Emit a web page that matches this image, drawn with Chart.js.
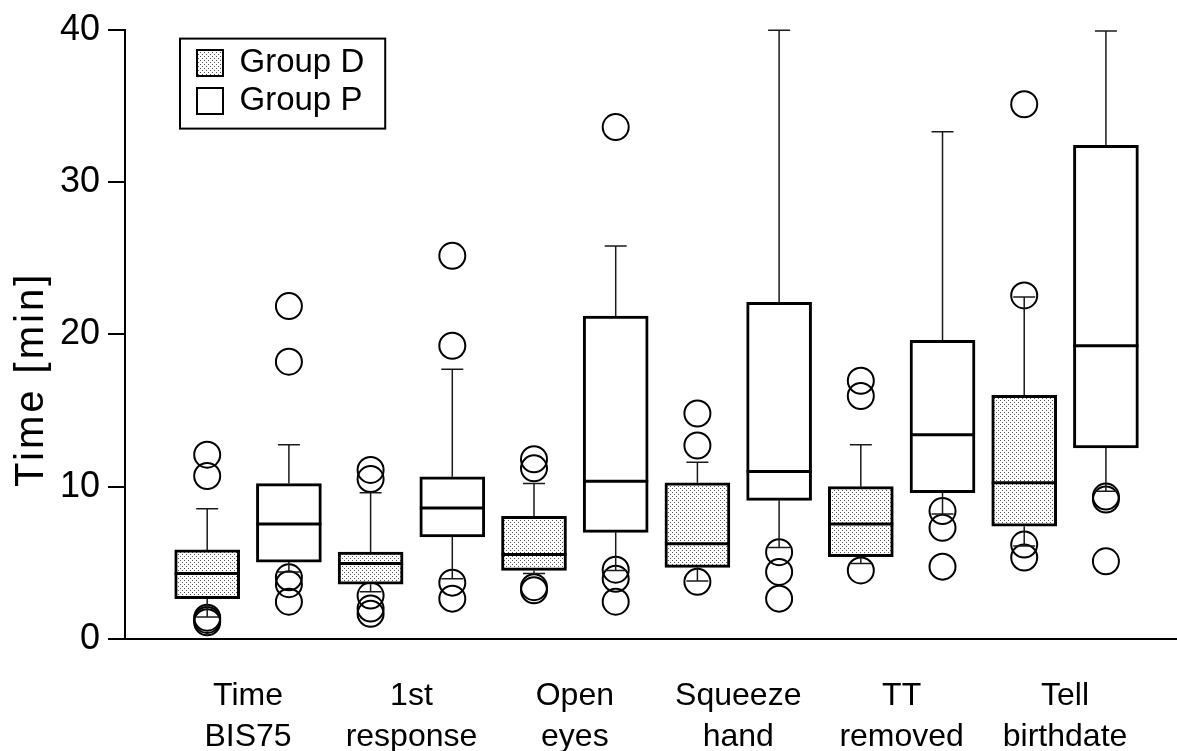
<!DOCTYPE html>
<html lang="en">
<head>
<meta charset="UTF-8">
<title>Time [min]</title>
<script src="https://cdn.jsdelivr.net/npm/chart.js"></script>
<style>
  html, body { margin: 0; padding: 0; background: #fff; }
  canvas { display: block; }
</style>
</head>
<body>
<canvas id="boxChart" width="1177" height="751"></canvas>
<script>
// categories (two-line tick labels)
const categories = [["Time", "BIS75"], ["1st", "response"], ["Open", "eyes"], ["Squeeze", "hand"], ["TT", "removed"], ["Tell", "birthdate"]];
const yTicks = [0, 10, 20, 30, 40];
const groupNames = ["Group D", "Group P"];
const yTitle = "Time [min]";

// Group D: lower whisker, Q1, median, Q3, upper whisker, outliers
const dLow  = [1.45, 3.1, 4.3, 3.8, 4.95, 6.1];
const dQ1   = [2.65, 3.6, 4.5, 4.7, 5.4, 7.4];
const dMed  = [4.3, 4.95, 5.55, 6.25, 7.55, 10.25];
const dQ3   = [5.85, 5.7, 8.05, 10.25, 10.0, 16.0];
const dHigh = [8.55, 9.6, 10.2, 11.6, 12.75, 22.45];
const dOut  = [[12.1, 10.7, 1.1, 1.25, 1.4], [11.1, 10.5, 2.85, 2.0, 1.65], [11.8, 11.2, 3.4, 3.2], [14.8, 12.7, 3.75], [16.95, 15.95, 4.5], [35.1, 22.55, 6.2, 5.35]];

// Group P
const pLow  = [4.4, 3.95, 4.5, 6.0, 8.2, 9.7];
const pQ1   = [5.05, 6.7, 7.0, 9.1, 9.6, 12.55];
const pMed  = [7.55, 8.6, 10.35, 11.0, 13.4, 19.25];
const pQ3   = [10.2, 10.65, 21.2, 22.1, 19.6, 32.4];
const pHigh = [12.75, 17.7, 25.8, 39.95, 33.3, 39.9];
const pOut  = [[21.85, 18.2, 4.05, 3.6, 2.45], [25.15, 19.25, 3.7, 2.65], [33.6, 4.55, 3.95, 2.45], [5.7, 4.4, 2.65], [8.4, 7.3, 4.75], [9.35, 9.15, 5.1]];

const offD = -0.25, offP = 0.25;
const FONT = "'Liberation Sans', Arial, Helvetica, sans-serif";

const canvas = document.getElementById("boxChart");
const ctx = canvas.getContext("2d");

// stipple fill for group D
function dotPattern() {
    const c = document.createElement("canvas");
    c.width = 4; c.height = 4;
    const g = c.getContext("2d");
    g.fillStyle = "#fff";
    g.fillRect(0, 0, 4, 4);
    g.fillStyle = "#555";
    g.fillRect(0, 0, 1, 1);
    g.fillRect(2, 2, 1, 1);
    return ctx.createPattern(c, "repeat");
}

const boxesD = categories.map((c, i) => ({ x: i + offD, y: [dQ1[i], dQ3[i]] }));
const boxesP = categories.map((c, i) => ({ x: i + offP, y: [pQ1[i], pQ3[i]] }));
const pointsD = dOut.flatMap((vals, i) => vals.map(v => ({ x: i + offD, y: v })));
const pointsP = pOut.flatMap((vals, i) => vals.map(v => ({ x: i + offP, y: v })));

// whiskers + medians, anchored on the bar elements
const whiskers = {
    id: "whiskers",
    afterDatasetsDraw(chart) {
        const c = chart.ctx, y = chart.scales.y;
        const sets = [[0, dLow, dMed, dHigh], [1, pLow, pMed, pHigh]];
        c.save();
        sets.forEach(([ds, lo, md, hi]) => {
            chart.getDatasetMeta(ds).data.forEach((bar, i) => {
                const props = bar.getProps(["x", "y", "base", "width"], true);
                const top = Math.min(props.y, props.base), bottom = Math.max(props.y, props.base);
                const yHi = y.getPixelForValue(hi[i]), yLo = y.getPixelForValue(lo[i]);
                c.strokeStyle = "#1a1a1a";
                c.lineWidth = 1.5;
                c.beginPath();
                c.moveTo(props.x, top); c.lineTo(props.x, yHi);
                c.moveTo(props.x - 11, yHi); c.lineTo(props.x + 11, yHi);
                c.moveTo(props.x, bottom); c.lineTo(props.x, yLo);
                c.moveTo(props.x - 11, yLo); c.lineTo(props.x + 11, yLo);
                c.stroke();
                const ym = y.getPixelForValue(md[i]);
                c.strokeStyle = "#000";
                c.lineWidth = 3;
                c.beginPath();
                c.moveTo(props.x - props.width / 2, ym);
                c.lineTo(props.x + props.width / 2, ym);
                c.stroke();
            });
        });
        c.restore();
    }
};

// y title sits a bit below the axis middle in the original
const sideTitle = {
    id: "sideTitle",
    afterDraw(chart) {
        const c = chart.ctx, a = chart.chartArea;
        c.save();
        c.translate(32, (a.top + a.bottom) / 2 + 45);
        c.rotate(-Math.PI / 2);
        c.font = "40px " + FONT;
        c.letterSpacing = "3px";
        c.fillStyle = "#000";
        c.textAlign = "center";
        c.textBaseline = "middle";
        c.fillText(yTitle, 0, 0);
        c.restore();
    }
};

// legend moved inside the plot and framed
const legendFrame = {
    id: "legendFrame",
    afterLayout(chart) {
        const lg = chart.legend, a = chart.chartArea;
        lg.left = a.left + 67;
        lg.top = a.top + 12;
        lg.right = lg.left + lg.width;
    },
    afterDraw(chart) {
        const boxes = chart.legend.legendHitBoxes;
        if (!boxes || !boxes.length) return;
        const l = Math.min(...boxes.map(b => b.left)) - 17;
        const t = Math.min(...boxes.map(b => b.top)) - 8;
        const r = Math.max(...boxes.map(b => b.left + b.width)) + 21;
        const b = Math.max(...boxes.map(h => h.top + h.height)) + 11;
        const c = chart.ctx;
        c.save();
        c.strokeStyle = "#000";
        c.lineWidth = 2;
        c.strokeRect(l, t, r - l, b - t);
        c.restore();
    }
};

new Chart(ctx, {
    type: "bar",
    data: {
        datasets: [
            {
                label: groupNames[0],
                data: boxesD,
                backgroundColor: dotPattern(),
                borderColor: "#000",
                borderWidth: 3,
                borderSkipped: false,
                barThickness: 65,
                grouped: false
            },
            {
                label: groupNames[1],
                data: boxesP,
                backgroundColor: "#fff",
                borderColor: "#000",
                borderWidth: 3,
                borderSkipped: false,
                barThickness: 65,
                grouped: false
            },
            {
                type: "scatter",
                label: "outD",
                data: pointsD,
                pointRadius: 13,
                pointBorderWidth: 2,
                borderColor: "#000",
                backgroundColor: "rgba(0,0,0,0)"
            },
            {
                type: "scatter",
                label: "outP",
                data: pointsP,
                pointRadius: 13,
                pointBorderWidth: 2,
                borderColor: "#000",
                backgroundColor: "rgba(0,0,0,0)"
            }
        ]
    },
    options: {
        responsive: false,
        animation: false,
        layout: { autoPadding: false, padding: { top: 24, right: 0, bottom: 0, left: 0 } },
        scales: {
            x: {
                type: "linear",
                offset: false,
                min: -0.753,
                max: 5.685,
                afterBuildTicks: scale => { scale.ticks = categories.map((c, i) => ({ value: i })); },
                afterFit: scale => { scale.height = 112; scale.paddingLeft = 0; scale.paddingRight = 0; },
                grid: { display: false, offset: false },
                border: { display: true, color: "#000", width: 2 },
                ticks: {
                    autoSkip: false,
                    maxRotation: 0,
                    padding: 28,
                    color: "#000",
                    font: { family: FONT, size: 32, lineHeight: 1.3 },
                    callback: v => categories[v] || ""
                }
            },
            y: {
                min: yTicks[0],
                max: yTicks[yTicks.length - 1],
                afterBuildTicks: scale => { scale.ticks = yTicks.map(v => ({ value: v })); },
                afterFit: scale => { scale.width = 125; },
                grid: { display: true, drawOnChartArea: false, drawTicks: true, tickLength: 17, color: "#000", lineWidth: 2 },
                border: { display: true, color: "#000", width: 2 },
                ticks: {
                    padding: 8,
                    color: "#000",
                    font: { family: FONT, size: 36 }
                },
                title: { display: false }
            }
        },
        plugins: {
            tooltip: { enabled: false },
            legend: {
                position: "chartArea",
                align: "start",
                labels: {
                    color: "#000",
                    font: { family: FONT, size: 33 },
                    boxWidth: 26,
                    boxHeight: 26,
                    padding: 5,
                    generateLabels: chart => Chart.defaults.plugins.legend.labels.generateLabels(chart)
                        .filter(l => l.datasetIndex < 2)
                        .map(l => Object.assign(l, { lineWidth: 2 }))
                }
            }
        }
    },
    plugins: [whiskers, sideTitle, legendFrame]
});
</script>
</body>
</html>
